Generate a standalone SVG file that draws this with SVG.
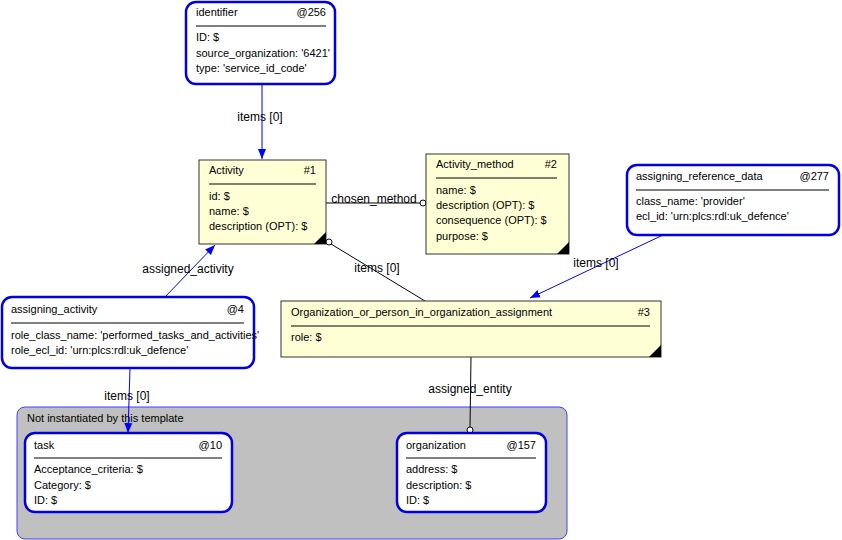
<svg xmlns="http://www.w3.org/2000/svg" width="842" height="540" viewBox="0 0 842 540">
<defs>
<style>
text{font-family:"Liberation Sans",Arial,sans-serif;font-size:11px;fill:#000}
.r{text-anchor:end}
.m{text-anchor:middle;font-size:12px}
.inst{fill:#fff;stroke:#0000e0;stroke-width:2.5}
.ent{fill:#ffffd6;stroke:#333;stroke-width:1}
.sep{stroke:#000;stroke-width:1}
.b{stroke:#0000ff;stroke-width:1;fill:none}
.k{stroke:#000;stroke-width:1;fill:none}
</style>
<marker id="a" viewBox="0 0 10 10" refX="10" refY="5" markerWidth="10" markerHeight="10" markerUnits="userSpaceOnUse" orient="auto"><path d="M0,1 L10,5 L0,9 z" fill="#0000ff"/></marker>
</defs>
<rect x="17" y="407" width="550" height="132" rx="8" fill="#c0c0c0" stroke="#4040ff"/>
<text x="27" y="422">Not instantiated by this template</text>
<g id="connectors">
<line class="b" x1="262" y1="84" x2="262" y2="159" marker-end="url(#a)"/>
<text class="m" x="260" y="121">items [0]</text>
<line class="k" x1="326" y1="203" x2="420" y2="203"/>
<circle cx="423" cy="203" r="3" fill="#fff" stroke="#000"/>
<text class="m" x="374" y="203">chosen_method</text>
<line class="k" x1="331" y1="244" x2="425" y2="301"/>
<circle cx="329" cy="242" r="3" fill="#fff" stroke="#000"/>
<text class="m" x="377" y="272">items [0]</text>
<line class="b" x1="663" y1="235" x2="530" y2="298" marker-end="url(#a)"/>
<text class="m" x="596" y="267">items [0]</text>
<line class="b" x1="165" y1="297" x2="215" y2="245" marker-end="url(#a)"/>
<text class="m" x="188" y="273">assigned_activity</text>
<line class="b" x1="130" y1="368" x2="128" y2="433" marker-end="url(#a)"/>
<text class="m" x="127" y="400">items [0]</text>
<line class="k" x1="471" y1="357" x2="470" y2="427"/>
<circle cx="470" cy="430" r="3" fill="#fff" stroke="#000"/>
<text class="m" x="470" y="393">assigned_entity</text>
</g>
<g id="identifier">
<rect class="inst" x="186" y="2" width="149" height="82" rx="10"/>
<text x="196" y="16">identifier</text><text class="r" x="326" y="16">@256</text>
<line class="sep" x1="196" y1="26" x2="326" y2="26"/>
<text x="196" y="41">ID: $</text><text x="196" y="57">source_organization: '6421'</text><text x="196" y="72">type: 'service_id_code'</text>
</g>
<g id="activity">
<rect class="ent" x="199" y="160" width="127" height="84"/>
<path d="M326,232 L326,244 L314,244 z" fill="#000"/>
<text x="209" y="174">Activity</text><text class="r" x="316" y="174">#1</text>
<line class="sep" x1="209" y1="184" x2="316" y2="184"/>
<text x="209" y="200">id: $</text><text x="209" y="215">name: $</text><text x="209" y="230">description (OPT): $</text>
</g>
<g id="activity_method">
<rect class="ent" x="426" y="154" width="143" height="100"/>
<path d="M569,242 L569,254 L557,254 z" fill="#000"/>
<text x="436" y="168">Activity_method</text><text class="r" x="557" y="168">#2</text>
<line class="sep" x1="436" y1="178" x2="557" y2="178"/>
<text x="436" y="194">name: $</text><text x="436" y="209">description (OPT): $</text><text x="436" y="224">consequence (OPT): $</text><text x="436" y="240">purpose: $</text>
</g>
<g id="assigning_reference_data">
<rect class="inst" x="627" y="165" width="212" height="70" rx="10"/>
<text x="636" y="180">assigning_reference_data</text><text class="r" x="829" y="180">@277</text>
<line class="sep" x1="636" y1="190" x2="829" y2="190"/>
<text x="636" y="205">class_name: 'provider'</text><text x="636" y="220">ecl_id: 'urn:plcs:rdl:uk_defence'</text>
</g>
<g id="org_assignment">
<rect class="ent" x="281" y="301" width="380" height="56"/>
<path d="M661,345 L661,357 L649,357 z" fill="#000"/>
<text x="291" y="316">Organization_or_person_in_organization_assignment</text><text class="r" x="650" y="316">#3</text>
<line class="sep" x1="291" y1="326" x2="650" y2="326"/>
<text x="291" y="341">role: $</text>
</g>
<g id="assigning_activity">
<rect class="inst" x="2" y="297" width="252" height="71" rx="10"/>
<text x="11" y="313">assigning_activity</text><text class="r" x="244" y="313">@4</text>
<line class="sep" x1="11" y1="323" x2="244" y2="323"/>
<text x="11" y="339">role_class_name: 'performed_tasks_and_activities'</text><text x="11" y="354">role_ecl_id: 'urn:plcs:rdl:uk_defence'</text>
</g>
<g id="task">
<rect class="inst" x="25" y="433" width="207" height="79" rx="10"/>
<text x="34" y="449">task</text><text class="r" x="222" y="449">@10</text>
<line class="sep" x1="34" y1="458" x2="222" y2="458"/>
<text x="34" y="473">Acceptance_criteria: $</text><text x="34" y="489">Category: $</text><text x="34" y="504">ID: $</text>
</g>
<g id="organization">
<rect class="inst" x="397" y="433" width="149" height="79" rx="10"/>
<text x="406" y="449">organization</text><text class="r" x="536" y="449">@157</text>
<line class="sep" x1="406" y1="458" x2="536" y2="458"/>
<text x="406" y="473">address: $</text><text x="406" y="489">description: $</text><text x="406" y="504">ID: $</text>
</g>
</svg>
